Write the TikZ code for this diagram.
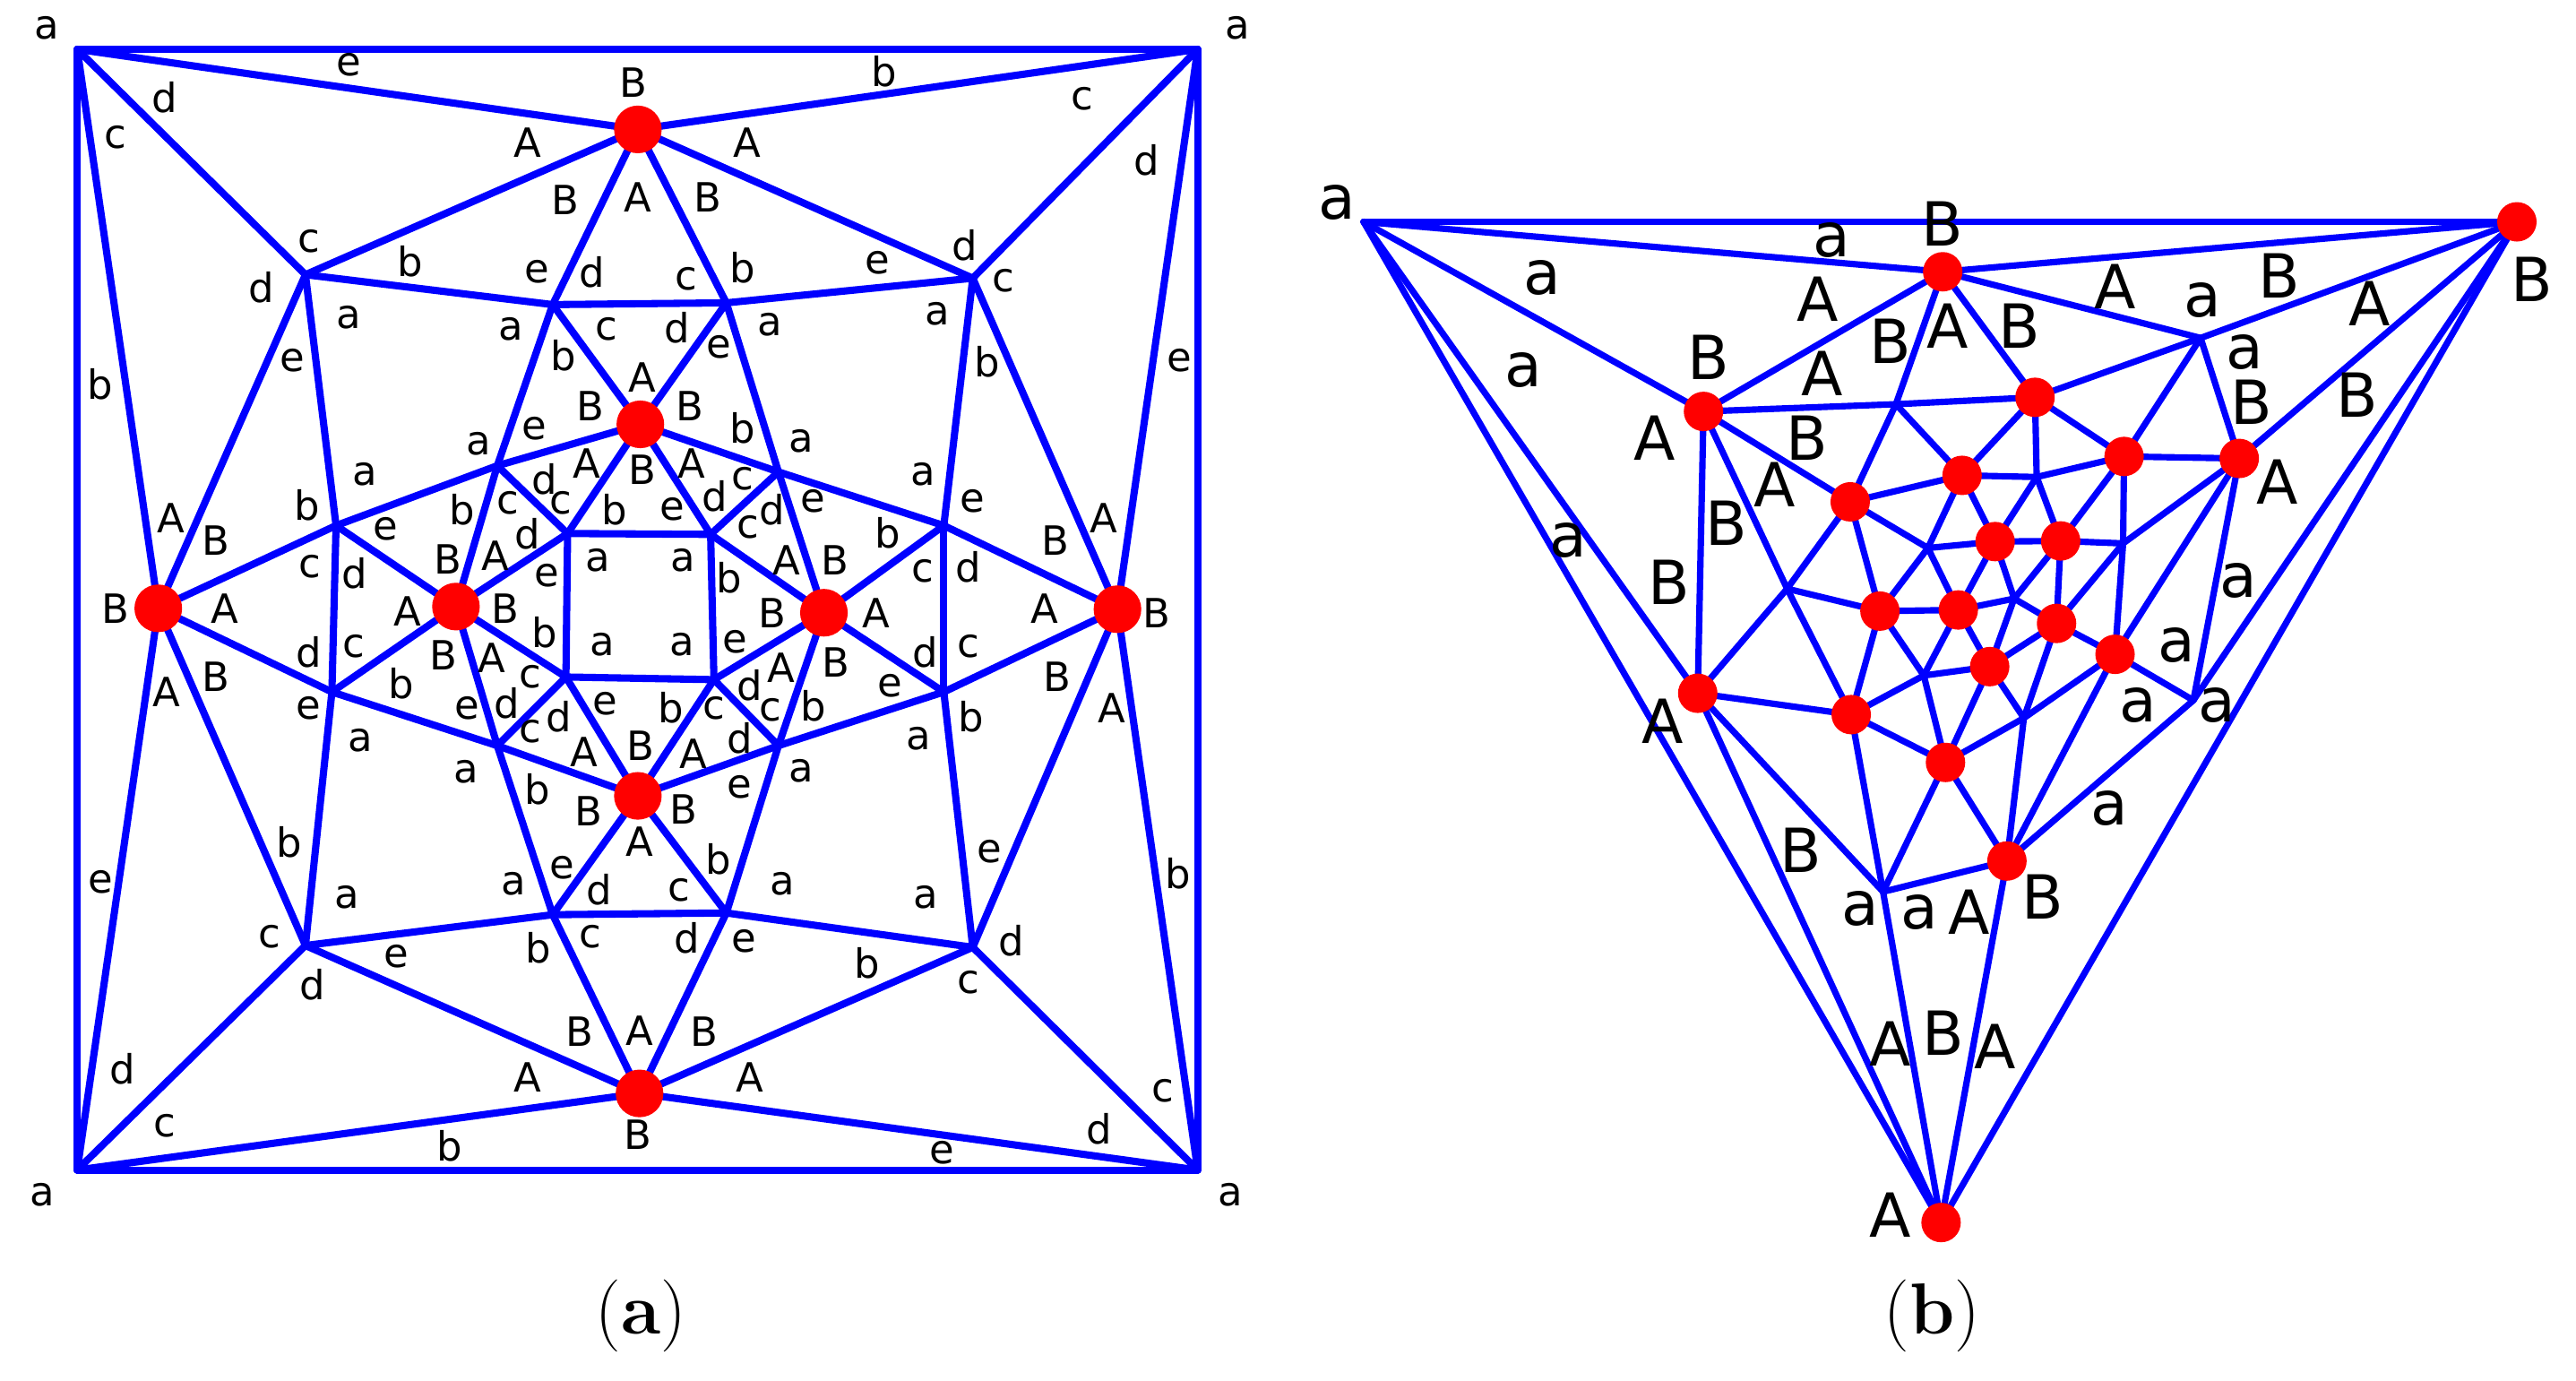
\documentclass[tikz,border=0pt]{standalone}
\usepackage{fontspec}
\newfontfamily\labfont{DejaVu Sans}
\begin{document}
\begin{tikzpicture}[x=1pt,y=-1pt,
  edge/.style={draw=blue,line width=4.4pt,line cap=round,line join=round},
  edgeb/.style={draw=blue,line width=3.9pt,line cap=round,line join=round},
  dota/.style={circle,fill=red,inner sep=0pt,minimum size=29pt},
  dotb/.style={circle,fill=red,inner sep=0pt,minimum size=24pt},
  la/.style={font=\labfont\fontsize{24.5}{24.5}\selectfont,inner sep=0pt},
  lb/.style={font=\labfont\fontsize{37}{37}\selectfont,inner sep=0pt},
  captext/.style={font=\fontsize{44}{44}\selectfont,inner sep=0pt}]
\useasboundingbox (0,0) rectangle (1568,840);
% ---------------- panel (a) ----------------
\begin{scope}[shift={(0.7,-0.53)},xscale=0.5033,yscale=0.5357]
\foreach \n/\x/\y in {TL/92/57,TR/1447/57,BL/92/1330,BR/1447/1330,
  Bt/770/148,Bl/190/692,Br/1350/693,Bb/772/1243,
  c1/368/313,c2/1175/317,c3/368/1075,c4/1175/1077,
  m1/667/347,m2/877/345,m3/405/598,m4/1140/598,m5/400/787,m6/1140/787,m7/667/1040,m8/877/1038,
  It/773/483,Il/550/690,Ir/995/697,Ib/770/905,
  n1/600/530,n2/940/537,n3/600/848,n4/940/848,
  s1/685/607,s2/858/608,s3/683/770,s4/862/773}
  \coordinate (\n) at (\x,\y);
\foreach \u/\v in {TL/TR,TR/BR,BR/BL,BL/TL,TL/Bt,TR/Bt,TL/c1,TL/Bl,BL/Bl,BL/c3,BL/Bb,TR/c2,TR/Br,BR/Br,BR/c4,BR/Bb,
  Bt/c1,Bt/c2,Bt/m1,Bt/m2,c1/m1,m1/m2,m2/c2,c1/Bl,c1/m3,c2/Br,c2/m4,c3/Bl,c3/m5,c3/m7,c3/Bb,c4/Br,c4/m6,c4/m8,c4/Bb,
  m7/m8,m7/Bb,m8/Bb,Bl/m3,Bl/m5,m3/m5,Br/m4,Br/m6,m4/m6,
  m1/It,m2/It,m1/n1,m2/n2,m3/n1,n1/It,It/n2,n2/m4,m3/Il,m5/Il,m5/n3,n3/Ib,Ib/n4,n4/m6,n1/Il,Il/n3,n3/m7,Ib/m7,Ib/m8,n4/m8,
  n2/Ir,Ir/n4,m4/Ir,m6/Ir,n1/s1,s1/It,s2/It,n2/s2,Il/s1,Il/s3,s3/n3,s3/Ib,s4/Ib,s4/n4,s4/Ir,s2/Ir,s1/s2,s2/s4,s4/s3,s3/s1}
  \draw[edge] (\u) -- (\v);
\foreach \n in {Bt,Bl,Br,Bb,It,Il,Ir,Ib} \node[dota] (d\n) at (\n) {};
\foreach \x/\y/\t [count=\i] in {55/33/a,1495/33/a,50/1358/a,1487/1358/a,
 420/75/e,765/95/B,1068/82/b,
 198/112/d,138/157/c,637/163/A,902/163/A,1307/113/c,1385/183/d,
 682/228/B,770/225/A,855/225/B,
 372/275/c,495/298/b,648/310/e,715/310/d,828/318/c,897/305/b,1060/300/e,1165/280/d,1212/320/c,
 315/328/d,420/362/a,617/375/a,732/375/c,818/373/d,930/370/a,1132/358/a,
 352/410/e,120/437/b,680/405/b,868/395/e,1192/412/b,1425/410/e,
 775/430/A,713/462/B,833/462/B,897/487/b,578/505/a,645/488/e,968/502/a,440/540/a,1115/540/a,
 657/545/d,708/527/A,775/535/B,835/527/A,897/545/c,863/565/d,932/580/d,982/570/e,1175/570/e,
 370/575/b,613/572/c,677/572/c,558/580/b,742/580/b,812/580/e,903/600/c,1072/607/b,
 205/590/A,260/615/B,465/602/e,637/608/d,540/636/B,598/632/A,722/638/a,825/638/a,880/657/b,950/637/A,1008/637/B,1275/615/B,1333/590/A,
 373/645/c,428/652/d,660/655/e,1115/650/c,1170/645/d,
 138/692/B,270/692/A,492/695/A,610/692/B,933/697/B,1058/697/A,1262/692/A,1397/697/B,
 372/742/d,427/735/c,657/720/b,727/733/a,823/733/a,888/730/e,1118/742/d,1170/735/c,
 260/770/B,200/787/A,535/745/B,593/748/A,640/770/c,943/760/A,1010/753/B,1277/770/B,1343/805/A,
 372/805/e,484/778/b,563/805/e,612/800/d,675/815/d,730/800/e,810/805/b,862/805/c,905/780/d,930/808/c,982/803/b,1075/780/e,1173/815/b,
 435/842/a,640/832/c,705/855/A,773/848/B,837/857/A,893/840/d,1110/840/a,
 562/878/a,648/898/b,710/922/B,825/920/B,893/895/e,968/877/a,
 348/958/b,772/957/A,120/1003/e,867/977/b,1195/968/e,1423/993/b,
 418/1020/a,620/1005/a,678/987/e,723/1012/d,820/1012/c,945/1005/a,1118/1020/a,
 325/1065/c,713/1065/c,830/1067/d,898/1070/e,650/1078/b,478/1088/e,1047/1095/b,1222/1070/d,
 377/1120/d,1170/1117/c,
 700/1173/B,772/1172/A,850/1173/B,
 147/1215/d,637/1225/A,905/1225/A,1405/1240/c,
 198/1280/c,770/1290/B,1328/1283/d,542/1303/b,1138/1310/e}
 \node[la] (la\i) at (\x,\y) {\t};
\end{scope}
\node[captext] (capa) at (390,801) {(\textbf{a})};
% ---------------- panel (b) ----------------
\foreach \n/\x/\y in {V0/830/135,VB/1532/135,VA/1181.5/744,
  P1/1182.5/165.4,P2/1339.5/205.7,P3/1036.9/250.4,P4/1238.7/241.8,P5/1154/246,
  P6/1363/279,P7/1292.9/277.8,P8/1194.3/289.3,P9/1126.2/305.4,P10/1239.7/290.3,
  P11/1214.4/329.6,P12/1254.3/329.2,P13/1173.5/333.5,P14/1292.3/330.7,P15/1087.8/358.3,
  P16/1144.3/371.9,P17/1192/371.2,P18/1226/364.3,P19/1251.8/379.4,P20/1287.4/398.2,
  P21/1211.1/405.7,P22/1171/411.1,P23/1033.4/421.9,P24/1126.8/434.9,P25/1335.1/426.2,
  P26/1231.9/437,P27/1184.2/464,P28/1221.6/524,P29/1146.2/542.7}
  \coordinate (\n) at (\x,\y);
\foreach \u/\v in {V0/VB,V0/P1,P1/VB,V0/P3,V0/P23,V0/VA,VB/P2,VB/P6,VB/P25,VB/VA,
  P1/P2,P1/P3,P1/P4,P1/P5,P5/P9,P2/P4,P2/P7,P2/P6,P3/P5,P5/P4,P3/P9,P3/P23,P3/P15,P15/P24,
  P5/P8,P4/P8,P4/P7,P4/P10,P7/P6,P7/P10,P7/P14,P7/P12,P6/P14,P6/P20,P6/P25,
  P8/P9,P8/P10,P8/P11,P8/P13,P9/P13,P13/P11,P13/P16,P13/P17,P10/P11,P10/P12,
  P11/P12,P12/P14,P11/P17,P11/P18,P12/P19,P12/P18,P14/P20,P14/P19,
  P9/P16,P9/P15,P15/P23,P15/P16,P16/P17,P16/P22,P16/P24,P17/P18,P17/P21,P17/P22,
  P18/P19,P18/P21,P19/P20,P19/P21,P19/P26,P20/P25,P20/P26,P20/P28,
  P21/P22,P21/P26,P21/P27,P22/P24,P22/P27,P24/P27,P24/P23,P24/P29,P26/P27,P26/P28,
  P27/P28,P27/P29,P28/P25,P28/P29,P28/VA,P23/P29,P23/VA,P29/VA}
  \draw[edgeb] (\u) -- (\v);
\foreach \n in {VB,VA,P1,P3,P4,P6,P7,P8,P9,P11,P12,P16,P17,P19,P20,P21,P23,P24,P27,P28}
  \node[dotb] (d\n) at (\n) {};
\foreach \x/\y/\t [count=\i] in {813.7/123.3/a,1114.9/146.3/a,1182.5/136.3/B,938.6/168.9/a,1106.5/181.9/A,
 1287.7/174.5/A,1387.4/168/B,1340.5/182.7/a,1442.2/184.9/A,1540.9/170.2/B,927.3/225.3/a,1039.8/217.5/B,
 1150.9/207.9/B,1185.5/198.4/A,1229.4/198.4/B,1108.9/227.4/A,1366.6/214.4/a,1370.6/244.8/B,1434.8/240.5/B,
 1007.2/266.5/A,1100/266.5/B,1386.4/293.4/A,1080.3/294.7/A,1050.7/318.6/B,954.4/328.6/a,1016.1/354.6/B,
 1362.7/353.3/a,1324.7/392.4/a,1012.2/438.8/A,1301.5/429.3/a,1349.4/429.3/a,1284.2/492.2/a,1096.1/517.4/B,
 1132.1/553/a,1168.2/555.1/a,1198.8/555.1/A,1243.2/545.6/B,1150.4/635.4/A,1183/628.9/B,1214.6/636.7/A,
 1150.4/739.6/A}
 \node[lb] (lb\i) at (\x,\y) {\t};
\node[captext] (capb) at (1176,801) {(\textbf{b})};
\end{tikzpicture}
\end{document}
